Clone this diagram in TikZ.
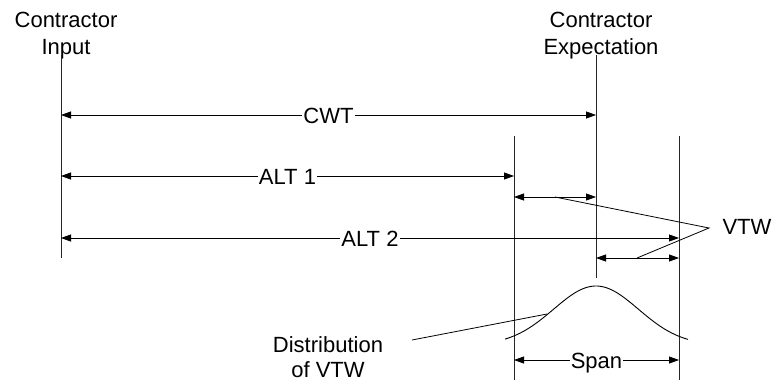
\documentclass[tikz,border=0pt]{standalone}
\usepackage{fontspec}
\setmainfont{Liberation Sans}
\usetikzlibrary{arrows.meta}
\begin{document}
\begin{tikzpicture}[x=1pt,y=-1pt,
  every node/.style={font=\fontsize{22}{27}\selectfont},
  rule/.style={line width=0.8pt, draw=black!85},
  dim/.style={line width=0.8pt,
    {Triangle[length=10pt,width=7pt]}-{Triangle[length=10pt,width=7pt]}},
  tag/.style={fill=white, inner sep=1pt, text height=16pt, text depth=0pt},
  lead/.style={line width=0.8pt}]
\useasboundingbox (0,0) rectangle (772,383);

% headings
\node[align=center] (hin) at (66,36) {Contractor\\Input};
\node[align=center] (hex) at (601,36) {Contractor\\Expectation};

% vertical reference rules
\coordinate (inTop) at (61,55);  \coordinate (inBot) at (61,258);
\coordinate (exTop) at (596,55); \coordinate (exBot) at (596,278);
\coordinate (aTop) at (514,136); \coordinate (aBot) at (514,380);
\coordinate (bTop) at (679,136); \coordinate (bBot) at (679,380);
\draw[rule] (inTop) -- (inBot);
\draw[rule] (exTop) -- (exBot);
\draw[rule] (aTop) -- (aBot);
\draw[rule] (bTop) -- (bBot);

% dimension arrows
\coordinate (cwtL) at (61,115);  \coordinate (cwtR) at (596,115);
\coordinate (alt1L) at (61,176); \coordinate (alt1R) at (514,176);
\coordinate (alt2L) at (61,238); \coordinate (alt2R) at (679,238);
\coordinate (w1L) at (514,197);  \coordinate (w1R) at (596,197);
\coordinate (w2L) at (596,258);  \coordinate (w2R) at (679,258);
\coordinate (spL) at (514,360);  \coordinate (spR) at (679,360);

\draw[dim] (cwtL) -- node[tag] (cwt) {CWT} (cwtR);
\draw[dim] (alt1L) -- node[tag] (alt1) {ALT 1} (alt1R);
\draw[dim] (alt2L) -- node[tag] (alt2) {ALT 2} (alt2R);
\draw[dim] (w1L) -- (w1R);
\draw[dim] (w2L) -- (w2R);
\draw[dim] (spL) -- node[tag] (span) {Span} (spR);

% VTW callout
\node (vtw) at (747,227) {VTW};
\coordinate (vApex) at (709,228);
\coordinate (vA) at (555,197);
\coordinate (vB) at (637,258);
\draw[lead] (vA) -- (vApex) -- (vB);

% distribution curve
\draw[line width=0.9pt] plot[domain=505:688, samples=80, smooth]
  (\x, {345-59*exp(-((\x-596)/60)^2)});

% distribution callout
\node[align=center, font=\fontsize{22}{25}\selectfont] (dist) at (328,357)
  {Distribution\\of VTW};
\coordinate (dA) at (412,340);
\coordinate (dB) at (547,314);
\draw[lead] (dA) -- (dB);
\end{tikzpicture}
\end{document}
